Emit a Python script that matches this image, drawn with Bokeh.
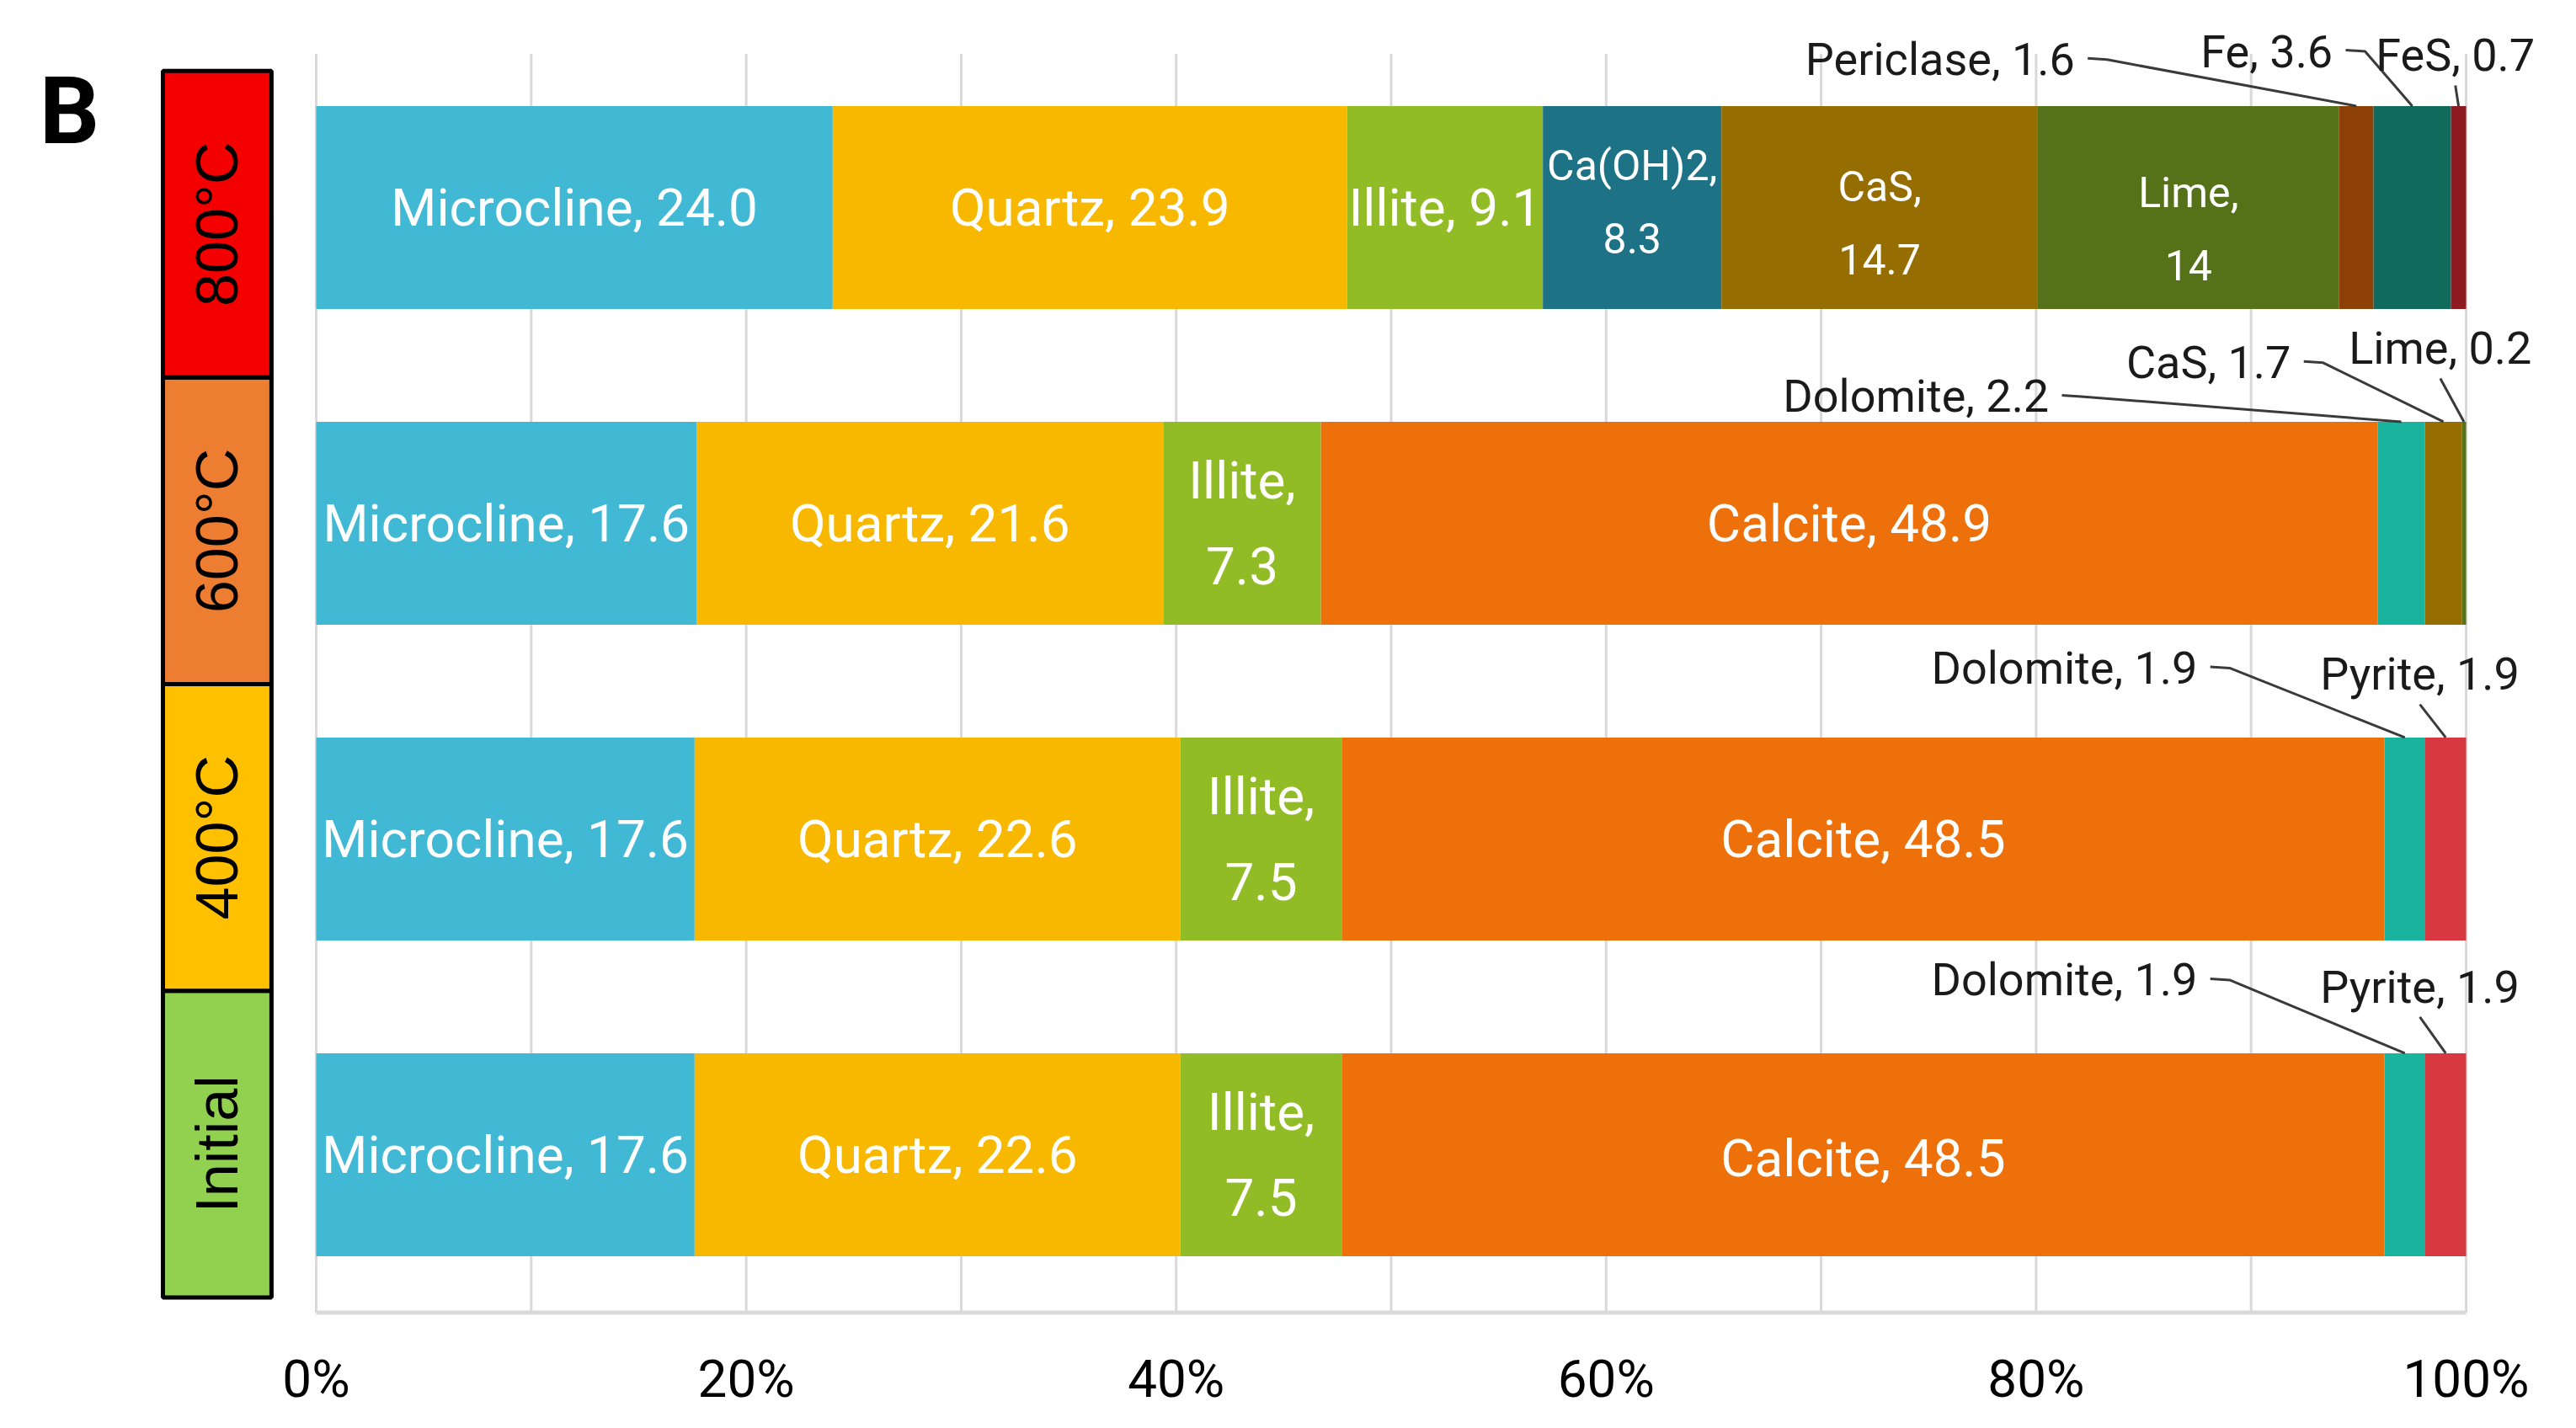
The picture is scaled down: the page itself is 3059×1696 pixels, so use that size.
import numpy as np
from bokeh.plotting import figure
from bokeh.models import Range1d, FixedTicker, Label, ColumnDataSource
from bokeh.core.properties import value
from bokeh.embed import file_html
from bokeh.resources import INLINE

# ---------------- data ----------------
rows = ["Initial", "400°C", "600°C", "800°C"]
row_colors = ["#92D050", "#FFC000", "#ED7D31", "#F40000"]

initial_minerals = ["Microcline", "Quartz", "Illite", "Calcite", "Dolomite", "Pyrite"]
initial_values = [17.6, 22.6, 7.5, 48.5, 1.9, 1.9]
initial_labels = ["Microcline, 17.6", "Quartz, 22.6", "Illite,\n7.5", "Calcite, 48.5",
                  "Dolomite, 1.9", "Pyrite, 1.9"]

t400_minerals = ["Microcline", "Quartz", "Illite", "Calcite", "Dolomite", "Pyrite"]
t400_values = [17.6, 22.6, 7.5, 48.5, 1.9, 1.9]
t400_labels = ["Microcline, 17.6", "Quartz, 22.6", "Illite,\n7.5", "Calcite, 48.5",
               "Dolomite, 1.9", "Pyrite, 1.9"]

t600_minerals = ["Microcline", "Quartz", "Illite", "Calcite", "Dolomite", "CaS", "Lime"]
t600_values = [17.6, 21.6, 7.3, 48.9, 2.2, 1.7, 0.2]
t600_labels = ["Microcline, 17.6", "Quartz, 21.6", "Illite,\n7.3", "Calcite, 48.9",
               "Dolomite, 2.2", "CaS, 1.7", "Lime, 0.2"]

t800_minerals = ["Microcline", "Quartz", "Illite", "Ca(OH)2", "CaS", "Lime",
                 "Periclase", "Fe", "FeS"]
t800_values = [24.0, 23.9, 9.1, 8.3, 14.7, 14, 1.6, 3.6, 0.7]
t800_labels = ["Microcline, 24.0", "Quartz, 23.9", "Illite, 9.1", "Ca(OH)2,\n8.3",
               "CaS,\n14.7", "Lime,\n14", "Periclase, 1.6", "Fe, 3.6", "FeS, 0.7"]

tick_values = [0, 20, 40, 60, 80, 100]
tick_labels = ["0%", "20%", "40%", "60%", "80%", "100%"]

mineral_colors = {
    "Microcline": "#41B8D4", "Quartz": "#F9B800", "Illite": "#92BC25",
    "Calcite": "#ED700A", "Dolomite": "#19B39E", "Pyrite": "#D8383F",
    "Ca(OH)2": "#1E7285", "CaS": "#966D00", "Lime": "#557219",
    "Periclase": "#8E4106", "Fe": "#106B5D", "FeS": "#8E1B20",
}

# ---------------- layout (styling / placement only) ----------------
W, H = 3040, 1680
PX_PER_PCT = 25.53
PX_PER_ROW = 375.0
ZERO_PX = 375.0          # x pixel of 0 %
TOP_ROW_PX = 246.0       # y pixel of the top row centre
BORDER_BOTTOM = 114
BAR_H = 0.643
FONT = "Roboto"

x_start = -ZERO_PX / PX_PER_PCT
x_end = x_start + W / PX_PER_PCT
y_end = (len(rows) - 1) + TOP_ROW_PX / PX_PER_ROW
y_start = y_end - (H - BORDER_BOTTOM) / PX_PER_ROW

# callout placements: style, text x (%), text height above bar top (rows)
CALLOUTS = {
    "800°C": {"Periclase": ("left", 81.8, 0.147), "Fe": ("left", 93.8, 0.173),
              "FeS": ("top", 99.5, 0.16)},
    "600°C": {"Dolomite": ("left", 80.6, 0.08), "CaS": ("left", 91.85, 0.187),
              "Lime": ("top", 98.8, 0.232)},
    "400°C": {"Dolomite": ("left", 87.5, 0.22), "Pyrite": ("top", 97.85, 0.2)},
    "Initial": {"Dolomite": ("left", 87.5, 0.232), "Pyrite": ("top", 97.85, 0.21)},
}
SMALL_INSIDE = {("800°C", "Ca(OH)2"), ("800°C", "CaS"), ("800°C", "Lime")}
INSIDE_DY = {("800°C", "CaS"): -0.05, ("800°C", "Lime"): -0.07,
             ("800°C", "Ca(OH)2"): 0.015, ("Initial", "Calcite"): -0.01}

BOX_LEFT, BOX_RIGHT = -7.13, -2.08
BOX_TOP, BOX_BOTTOM = 3.433, -0.452

# ---------------- figure ----------------
p = figure(width=W, height=H, output_backend="svg", toolbar_location=None,
           x_range=Range1d(x_start, x_end), y_range=Range1d(y_start, y_end),
           y_axis_location=None, min_border_left=0, min_border_right=0,
           min_border_top=0, min_border_bottom=BORDER_BOTTOM)
p.outline_line_color = None
p.xgrid.visible = False
p.ygrid.visible = False
p.background_fill_color = "white"

# grid lines and base line
grid_x = list(range(0, 101, 10))
grid_top = (len(rows) - 1) + 0.487
p.segment(x0=grid_x, x1=grid_x, y0=[-0.5] * len(grid_x), y1=[grid_top] * len(grid_x),
          line_color="#D9D9D9", line_width=3)
p.segment(x0=[0], x1=[100], y0=[-0.5], y1=[-0.5], line_color="#D9D9D9", line_width=5)

all_minerals = [initial_minerals, t400_minerals, t600_minerals, t800_minerals]
all_values = [initial_values, t400_values, t600_values, t800_values]
all_labels = [initial_labels, t400_labels, t600_labels, t800_labels]

bars = dict(left=[], right=[], y=[], color=[])
inside_big = dict(x=[], y=[], text=[])
inside_small = dict(x=[], y=[], text=[])
call_right = dict(x=[], y=[], text=[])
call_center = dict(x=[], y=[], text=[])
lead_xs, lead_ys = [], []

for i, (row, mins, vals, labs) in enumerate(zip(rows, all_minerals, all_values, all_labels)):
    total = float(sum(vals))
    cum = np.concatenate([[0.0], np.cumsum(vals)]) / total * 100.0
    top = i + BAR_H / 2
    for j, m in enumerate(mins):
        l, r = cum[j], cum[j + 1]
        c = (l + r) / 2
        bars["left"].append(l)
        bars["right"].append(r)
        bars["y"].append(i)
        bars["color"].append(mineral_colors[m])
        if m in CALLOUTS.get(row, {}):
            style, tx, dy = CALLOUTS[row][m]
            ty = top + dy
            if style == "left":
                call_right["x"].append(tx)
                call_right["y"].append(ty)
                call_right["text"].append(labs[j])
                lead_xs.append([tx + 0.6, tx + 1.5, c])
                lead_ys.append([ty + 0.004, ty, top])
            else:
                call_center["x"].append(tx)
                call_center["y"].append(ty)
                call_center["text"].append(labs[j])
                lead_xs.append([tx, c])
                lead_ys.append([ty - 0.095, top])
        else:
            tgt = inside_small if (row, m) in SMALL_INSIDE else inside_big
            tgt["x"].append(c)
            tgt["y"].append(i + INSIDE_DY.get((row, m), 0.0))
            tgt["text"].append(labs[j])

p.hbar(y="y", left="left", right="right", height=BAR_H, fill_color="color",
       line_color=None, source=ColumnDataSource(bars))

p.text(x="x", y="y", text="text", source=ColumnDataSource(inside_big),
       text_align="center", text_baseline="middle", text_color="white",
       text_font=value(FONT), text_font_size="62px", text_line_height=1.4)
p.text(x="x", y="y", text="text", source=ColumnDataSource(inside_small),
       text_align="center", text_baseline="middle", text_color="white",
       text_font=value(FONT), text_font_size="50px", text_line_height=1.5)

p.multi_line(xs=lead_xs, ys=lead_ys, line_color="#3A3A3A", line_width=3)
p.text(x="x", y="y", text="text", source=ColumnDataSource(call_right),
       text_align="right", text_baseline="middle", text_color="#1A1A1A",
       text_font=value(FONT), text_font_size="54px")
p.text(x="x", y="y", text="text", source=ColumnDataSource(call_center),
       text_align="center", text_baseline="middle", text_color="#1A1A1A",
       text_font=value(FONT), text_font_size="54px")

# temperature boxes
edges = np.linspace(BOX_TOP, BOX_BOTTOM, len(rows) + 1)
n = len(rows)
box_top = [edges[n - 1 - i] for i in range(n)]
box_bot = [edges[n - i] for i in range(n)]
p.quad(left=[BOX_LEFT] * n, right=[BOX_RIGHT] * n, top=box_top, bottom=box_bot,
       fill_color=row_colors, line_color="black", line_width=5)
p.text(x=[(BOX_LEFT + BOX_RIGHT) / 2] * n,
       y=[(a + b) / 2 for a, b in zip(box_top, box_bot)], text=rows,
       angle=np.pi / 2, text_align="center", text_baseline="middle",
       text_color="black", text_font=value("Liberation Sans"), text_font_size="70px")

# panel letter
p.add_layout(Label(x=-11.48, y=3.308, text="B", text_font=FONT,
                   text_font_style="bold", text_font_size="112px",
                   text_align="center", text_baseline="middle", text_color="black"))

# x axis
ax = p.xaxis[0]
ax.ticker = FixedTicker(ticks=tick_values)
ax.major_label_overrides = {v: t for v, t in zip(tick_values, tick_labels)}
ax.axis_line_color = None
ax.major_tick_line_color = None
ax.minor_tick_line_color = None
ax.major_label_standoff = 28
ax.major_label_text_font = FONT
ax.major_label_text_font_size = "62px"
ax.major_label_text_color = "black"

open("out.html", "w").write(file_html(p, INLINE))
